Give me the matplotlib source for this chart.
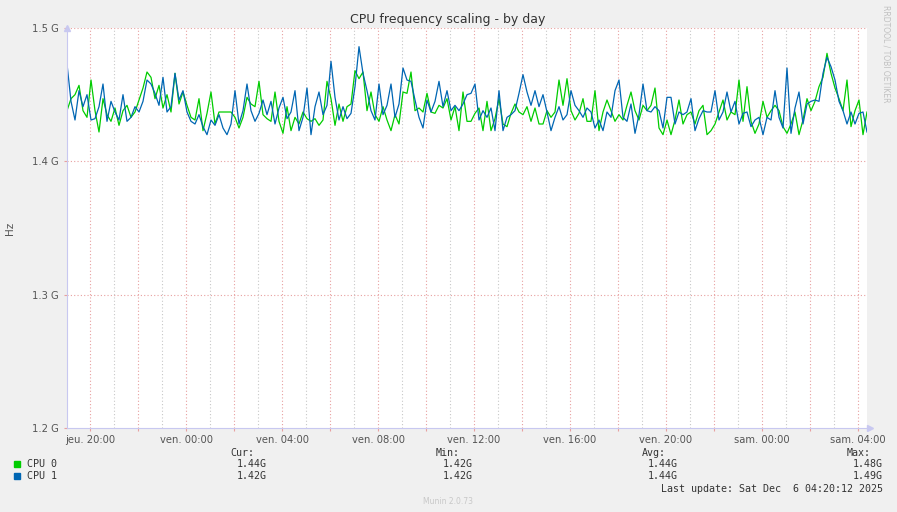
import numpy as np
import pandas as pd
import matplotlib
matplotlib.use('Agg')
import matplotlib.pyplot as plt
from matplotlib.patches import Rectangle

# CPU frequency in MHz, one sample every 10 minutes
cpu0 = [1438, 1447, 1450, 1457, 1438, 1433, 1461, 1438, 1422, 1447,
        1435, 1430, 1440, 1427, 1438, 1442, 1433, 1437, 1446, 1455,
        1467, 1463, 1447, 1457, 1440, 1450, 1437, 1466, 1443, 1452,
        1442, 1433, 1431, 1447, 1423, 1436, 1452, 1428, 1437, 1437,
        1437, 1437, 1433, 1425, 1433, 1448, 1443, 1441, 1460, 1435,
        1432,
        1430, 1452, 1430, 1421, 1441, 1423, 1433, 1428, 1437, 1432,
        1430, 1432, 1427, 1431, 1460, 1447, 1427, 1443, 1430, 1441,
        1443, 1468, 1462, 1467, 1438, 1452, 1435, 1430, 1441, 1431,
        1423, 1435, 1428, 1452, 1451, 1467, 1438, 1440, 1437, 1451,
        1437, 1436, 1442, 1440, 1447, 1431, 1441, 1423, 1452, 1430,
        1430, 1436, 1440, 1423, 1445, 1423, 1432, 1447, 1428, 1426,
        1436, 1443, 1437, 1435, 1441, 1430, 1440, 1428, 1428, 1438,
        1433, 1437, 1461, 1442, 1462, 1438, 1431, 1436, 1447, 1430,
        1430, 1453, 1423, 1437, 1446, 1438, 1430, 1435, 1431, 1442,
        1452, 1438, 1431, 1442, 1438, 1442, 1455, 1425, 1420, 1431,
        1420, 1431, 1446, 1428, 1435, 1437, 1428, 1438, 1442, 1420,
        1423, 1428, 1437, 1446, 1431, 1437, 1435, 1461, 1430, 1456,
        1430, 1421, 1428, 1445, 1433, 1438, 1442, 1438, 1426, 1421,
        1428, 1437, 1420, 1431, 1447, 1438, 1445, 1456, 1463, 1481,
        1466, 1455, 1447, 1438, 1461, 1426, 1438, 1446, 1420, 1437]

cpu1 = [1473, 1445, 1431, 1453, 1441, 1450, 1431, 1432, 1441, 1458,
        1430, 1445, 1437, 1431, 1450, 1430, 1433, 1441, 1437, 1445,
        1461, 1458, 1451, 1442, 1463, 1437, 1441, 1466, 1446, 1453,
        1437, 1430, 1428, 1435, 1426, 1420, 1431, 1427, 1435, 1425,
        1420, 1428, 1453, 1428, 1438, 1458, 1438, 1430, 1436, 1446,
        1435,
        1445, 1428, 1440, 1448, 1432, 1437, 1453, 1423, 1433, 1455,
        1420, 1441, 1452, 1435, 1442, 1475, 1448, 1431, 1441, 1432,
        1436, 1456, 1486, 1466, 1453, 1438, 1431, 1458, 1435, 1442,
        1458, 1433, 1443, 1470, 1461, 1460, 1446, 1433, 1425, 1446,
        1437, 1445, 1460, 1441, 1453, 1438, 1442, 1438, 1443, 1450,
        1451, 1458, 1431, 1438, 1433, 1440, 1423, 1453, 1423, 1433,
        1435, 1438, 1451, 1465, 1452, 1442, 1453, 1441, 1450, 1437,
        1423, 1433, 1441, 1431, 1435, 1453, 1442, 1438, 1433, 1440,
        1437, 1425, 1431, 1423, 1437, 1433, 1453, 1461, 1433, 1430,
        1443, 1421, 1435, 1458, 1438, 1437, 1441, 1438, 1425, 1448,
        1448, 1428, 1437, 1435, 1437, 1447, 1423, 1432, 1438, 1437,
        1437, 1453, 1431, 1437, 1452, 1437, 1445, 1428, 1436, 1437,
        1426, 1431, 1433, 1420, 1433, 1431, 1453, 1433, 1425, 1470,
        1421, 1440, 1452, 1428, 1443, 1445, 1446, 1445, 1466, 1478,
        1471, 1461, 1445, 1438, 1428, 1437, 1428, 1436, 1437, 1422]

start = '2025-12-04 19:02:30'
tick_labels = ['jeu. 20:00', 'ven. 00:00', 'ven. 04:00', 'ven. 08:00',
               'ven. 12:00', 'ven. 16:00', 'ven. 20:00', 'sam. 00:00',
               'sam. 04:00']
y_ticks = [1.2e9, 1.3e9, 1.4e9, 1.5e9]
y_labels = ['1.2 G', '1.3 G', '1.4 G', '1.5 G']
names = ['CPU 0', 'CPU 1']
cur = ['1.44G', '1.42G']
mins = ['1.42G', '1.42G']
avgs = ['1.44G', '1.44G']
maxs = ['1.48G', '1.49G']
colors = ['#00CC00', '#0066B3']

W, H = 897, 512
times = pd.date_range(start, periods=len(cpu0), freq='10min')

fig = plt.figure(figsize=(W / 100, H / 100), dpi=100, facecolor='#F0F0F0')
ax = fig.add_axes([67 / W, 1 - 428 / H, 800 / W, 400 / H])
ax.set_facecolor('white')


def px(x, y):
    return x / W, 1 - y / H


for vals, c in zip([cpu0, cpu1], colors):
    ax.plot(times, np.array(vals) * 1e6, color=c, lw=0.9)

ax.set_xlim(times[0], times[-1])
ax.set_ylim(1.2e9, 1.5e9)

# grid
grid_red = '#E8A0A0'
grid_grey = '#C8C8C8'
ax.set_yticks(y_ticks)
ax.set_yticklabels(y_labels)
for yv in y_ticks[1:]:
    ax.axhline(yv, color=grid_red, lw=0.8, ls=(0, (1, 2)), zorder=0)

majors = pd.date_range('2025-12-04 20:00', times[-1], freq='2h')
minors = pd.date_range('2025-12-04 20:00', times[-1], freq='1h')
for t in minors:
    if t not in majors:
        ax.axvline(t, color=grid_grey, lw=0.8, ls=(0, (1, 2)), zorder=0)
for t in majors:
    ax.axvline(t, color=grid_red, lw=0.8, ls=(0, (1, 2)), zorder=0)

ax.set_xticks(majors)
ax.set_xticklabels([tick_labels[i // 2] if i % 2 == 0 else ''
                    for i in range(len(majors))])

ax.tick_params(axis='both', colors=grid_red, length=2, width=0.8,
               labelcolor='#555555', labelsize=7.2, pad=3)
ax.tick_params(axis='y', pad=4)

for s in ['top', 'right']:
    ax.spines[s].set_visible(False)
ax.spines['left'].set_color('#C8C8F0')
ax.spines['bottom'].set_color('#C8C8F0')
ax.spines['bottom'].set_linestyle((0, (2, 1)))
ax.plot([0], [1], marker='^', color='#C8C8F0', ms=5, transform=ax.transAxes,
        clip_on=False)
ax.plot([1.004], [0], marker='>', color='#C8C8F0', ms=5,
        transform=ax.transAxes, clip_on=False)

fig.text(*px(10, 228), 'Hz', rotation=90, ha='center', va='center',
         fontsize=7.5, color='#555555')

fig.text(*px(448, 19), 'CPU frequency scaling - by day', ha='center',
         va='center', fontsize=9, color='#333333')
fig.text(*px(886, 5), 'RRDTOOL / TOBI OETIKER', rotation=270, ha='center',
         va='top', fontsize=5.5, color='#C0C0C0')

# legend
mono = dict(family='DejaVu Sans Mono', fontsize=7.2, color='#333333',
            va='center')
fig.text(*px(254, 453), 'Cur:', ha='right', **mono)
fig.text(*px(460, 453), 'Min:', ha='right', **mono)
fig.text(*px(666, 453), 'Avg:', ha='right', **mono)
fig.text(*px(871, 453), 'Max:', ha='right', **mono)
for i, name in enumerate(names):
    y = 464 + i * 12
    fig.add_artist(Rectangle(px(14, y + 3), 6 / W, 6 / H, color=colors[i],
                             transform=fig.transFigure))
    fig.text(*px(27, y), name, ha='left', **mono)
    fig.text(*px(267, y), cur[i], ha='right', **mono)
    fig.text(*px(473, y), mins[i], ha='right', **mono)
    fig.text(*px(678, y), avgs[i], ha='right', **mono)
    fig.text(*px(883, y), maxs[i], ha='right', **mono)
fig.text(*px(883, 489), 'Last update: Sat Dec  6 04:20:12 2025', ha='right',
         **mono)
fig.text(*px(448, 501), 'Munin 2.0.73', ha='center', va='center',
         fontsize=5.5, color='#C8C8C8')

fig.savefig('out.png', dpi=100, facecolor=fig.get_facecolor())
